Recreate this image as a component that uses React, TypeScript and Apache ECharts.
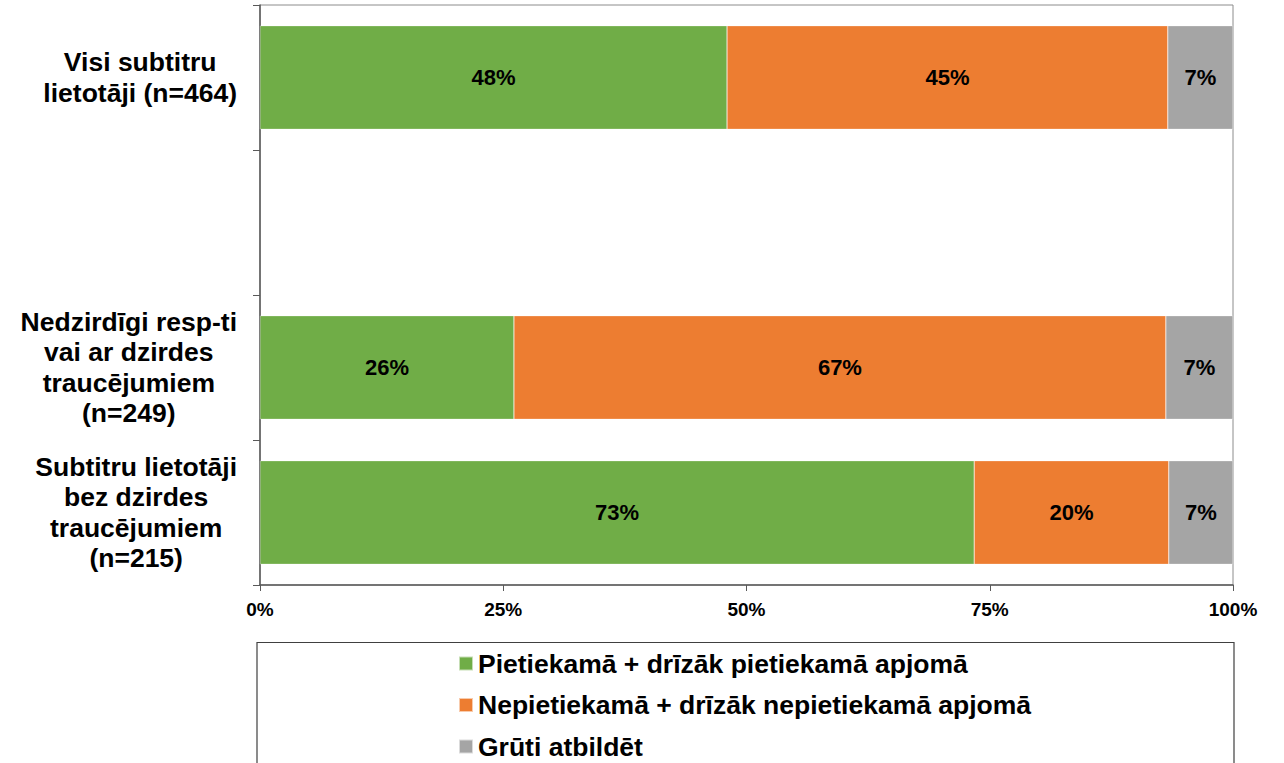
import React, { useEffect, useRef } from "react";
import * as echarts from "echarts";

const categories = [
  "Visi subtitru\nlietotāji (n=464)",
  "",
  "Nedzirdīgi resp-ti\nvai ar dzirdes\ntraucējumiem\n(n=249)",
  "Subtitru lietotāji\nbez dzirdes\ntraucējumiem\n(n=215)",
];

const seriesNames = [
  "Pietiekamā + drīzāk pietiekamā apjomā",
  "Nepietiekamā + drīzāk nepietiekamā apjomā",
  "Grūti atbildēt",
];

const sufficient = [48.0, null, 26.1, 73.4];
const insufficient = [45.3, null, 67.0, 20.0];
const hardToSay = [6.7, null, 6.9, 6.6];

const xTicks = [0, 25, 50, 75, 100];

const colors = ["#70AD47", "#ED7D31", "#A5A5A5"];

const FONT = "'Liberation Sans', Arial, Helvetica, sans-serif";

export default function App() {
  const ref = useRef<HTMLDivElement>(null);

  useEffect(() => {
    if (!ref.current) return;
    const chart = echarts.init(ref.current, null, { renderer: "svg" });
    const values = [sufficient, insufficient, hardToSay];
    const option: any = {
      animation: false,
      backgroundColor: "#ffffff",
      textStyle: { fontFamily: FONT },
      grid: {
        left: 260,
        right: 51,
        top: 5,
        bottom: 178,
        show: true,
        borderColor: "#8c8c8c",
        borderWidth: 1,
        containLabel: false,
      },
      legend: {
        orient: "vertical",
        left: 458,
        top: 650,
        padding: 0,
        itemWidth: 14,
        itemHeight: 14,
        itemGap: 14.5,
        icon: "rect",
        selectedMode: false,
        textStyle: {
          fontFamily: FONT,
          fontSize: 26.5,
          fontWeight: "bold",
          color: "#000",
        },
        data: seriesNames,
      },
      xAxis: {
        type: "value",
        min: xTicks[0],
        max: xTicks[xTicks.length - 1],
        interval: 25,
        axisLine: { show: true, lineStyle: { color: "#595959", width: 1.5 } },
        axisTick: { show: true, length: 6, lineStyle: { color: "#595959" } },
        splitLine: { show: false },
        axisLabel: {
          formatter: "{value}%",
          fontFamily: FONT,
          fontSize: 19,
          fontWeight: "bold",
          color: "#000",
          margin: 15,
        },
      },
      yAxis: {
        type: "category",
        inverse: true,
        data: categories,
        axisLine: { show: true, lineStyle: { color: "#595959", width: 1.5 } },
        axisTick: { show: true, length: 7, lineStyle: { color: "#595959" } },
        axisLabel: {
          margin: 23,
          align: "right",
          formatter: (v: string) =>
            v
              .split("\n")
              .map((l) => `{c|${l}}`)
              .join("\n"),
          rich: {
            c: {
              align: "center",
              fontFamily: FONT,
              fontSize: 26.5,
              fontWeight: "bold",
              color: "#000",
              lineHeight: 30.5,
            },
          },
        },
      },
      series: seriesNames.map((name, i) => ({
        name,
        type: "bar",
        stack: "total",
        barCategoryGap: "28.5%",
        data: values[i],
        itemStyle: {
          color: colors[i],
          borderColor: "rgba(255,255,255,0.6)",
          borderWidth: 0.5,
        },
        label: {
          show: true,
          position: "inside",
          formatter: (p: any) =>
            p.value == null ? "" : `${Math.round(p.value)}%`,
          fontFamily: FONT,
          fontSize: 22,
          fontWeight: "bold",
          color: "#000",
        },
      })),
      graphic: [
        {
          type: "rect",
          shape: { x: 257, y: 642.5, width: 977, height: 200 },
          style: { fill: "none", stroke: "#404040", lineWidth: 1.2 },
          silent: true,
        },
      ],
    };
    chart.setOption(option);
    return () => chart.dispose();
  }, []);

  return (
    <div
      ref={ref}
      style={{
        position: "fixed",
        left: 0,
        top: 0,
        width: 1284,
        height: 763,
        background: "#fff",
      }}
    />
  );
}
